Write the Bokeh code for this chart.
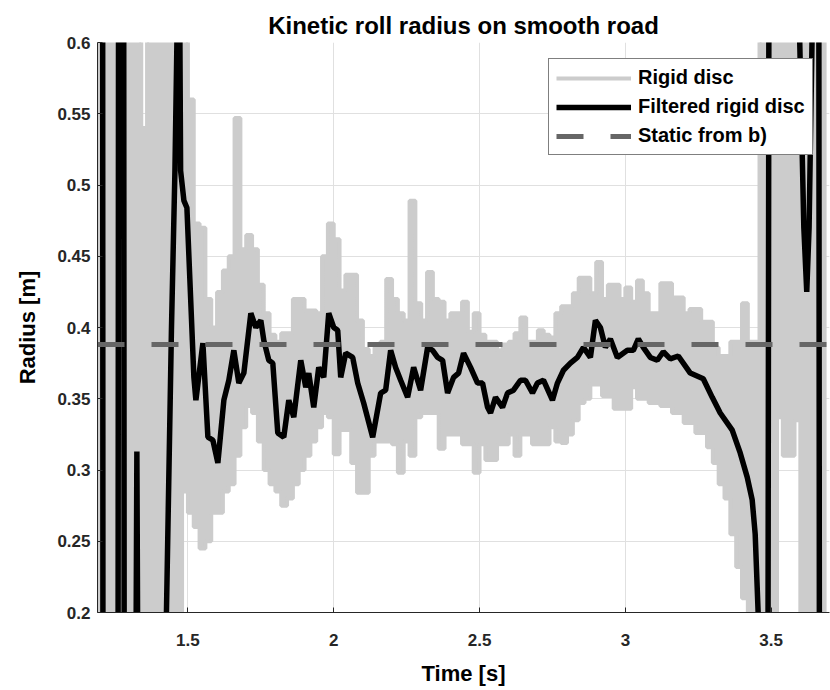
from bokeh.plotting import figure
from bokeh.models import Range1d, FixedTicker, Legend, LegendItem
from bokeh.embed import file_html
from bokeh.resources import INLINE

# ---------------- data ----------------
# Rigid disc: fast oscillating signal, given as its upper / lower extent per 0.02 s
rigid_t0 = 1.19
rigid_dt = 0.02
rigid_hi = [0.9, 0.9, 0.9, 0.9, 0.9, 0.9, 0.9, 0.9, 0.54, 0.9,
            0.9, 0.9, 0.9, 0.9, 0.9, 0.9, 0.56, 0.473, 0.47, 0.42,
            0.40, 0.425, 0.44, 0.45, 0.547, 0.455, 0.465, 0.455, 0.43, 0.41,
            0.395, 0.39, 0.396, 0.396, 0.42, 0.42, 0.412, 0.412, 0.41, 0.45,
            0.473, 0.462, 0.426, 0.437, 0.437, 0.405, 0.385, 0.38, 0.386, 0.39,
            0.434, 0.42, 0.41, 0.405, 0.489, 0.417, 0.405, 0.439, 0.42, 0.418,
            0.405, 0.41, 0.41, 0.418, 0.397, 0.41, 0.395, 0.39, 0.39, 0.384,
            0.388, 0.39, 0.396, 0.407, 0.39, 0.39, 0.398, 0.395, 0.393, 0.41,
            0.415, 0.415, 0.424, 0.435, 0.435, 0.424, 0.446, 0.42, 0.43, 0.43,
            0.42, 0.428, 0.418, 0.433, 0.424, 0.41, 0.41, 0.431, 0.431, 0.421,
            0.421, 0.41, 0.413, 0.413, 0.404, 0.404, 0.386, 0.38, 0.38, 0.39,
            0.39, 0.417, 0.39, 0.39, 0.9, 0.9, 0.9, 0.9, 0.9, 0.9,
            0.9, 0.9, 0.9, 0.9, 0.9, 0.9]
rigid_lo = [-0.1, -0.1, -0.1, -0.1, -0.1, -0.1, -0.1, -0.1, -0.1, -0.1,
            -0.1, -0.1, -0.1, -0.1, -0.1, 0.285, 0.27, 0.26, 0.245, 0.25,
            0.27, 0.27, 0.285, 0.29, 0.31, 0.33, 0.345, 0.34, 0.32, 0.30,
            0.29, 0.285, 0.275, 0.28, 0.29, 0.30, 0.31, 0.32, 0.33, 0.34,
            0.337, 0.311, 0.328, 0.328, 0.305, 0.284, 0.284, 0.31, 0.32, 0.32,
            0.32, 0.318, 0.298, 0.32, 0.31, 0.337, 0.34, 0.34, 0.34, 0.315,
            0.325, 0.325, 0.325, 0.318, 0.318, 0.298, 0.318, 0.307, 0.307, 0.318,
            0.318, 0.325, 0.31, 0.325, 0.325, 0.318, 0.318, 0.318, 0.33, 0.32,
            0.319, 0.325, 0.335, 0.347, 0.35, 0.36, 0.36, 0.352, 0.352, 0.343,
            0.343, 0.343, 0.358, 0.35, 0.35, 0.347, 0.347, 0.345, 0.345, 0.34,
            0.34, 0.333, 0.333, 0.326, 0.326, 0.316, 0.305, 0.29, 0.28, 0.255,
            0.232, 0.21, -0.1, -0.1, -0.1, -0.1, -0.1, 0.337, 0.31, 0.31,
            0.335, -0.1, -0.1, -0.1, -0.1, -0.1]

# Filtered rigid disc
filt_t = [1.190, 1.203, 1.215, 1.250, 1.270, 1.272, 1.292, 1.310, 1.325, 1.340,
          1.360, 1.405, 1.4264, 1.4435, 1.4555, 1.4623, 1.4675, 1.4726, 1.4750, 1.4863,
          1.4966, 1.5205, 1.5274, 1.5514, 1.5685, 1.5856, 1.6027, 1.6233, 1.6404, 1.6575,
          1.6747, 1.6918, 1.7158, 1.7329, 1.7500, 1.7603, 1.7774, 1.7911, 1.8082, 1.8288,
          1.8459, 1.8630, 1.8870, 1.9041, 1.9144, 1.9315, 1.9486, 1.9658, 1.9829, 2.0000,
          2.0137, 2.0240, 2.0411, 2.0651, 2.0822, 2.1027, 2.1336, 2.1610, 2.1781, 2.1952,
          2.2123, 2.2295, 2.2534, 2.2740, 2.2979, 2.3219, 2.3390, 2.3562, 2.3733, 2.3904,
          2.4110, 2.4281, 2.4452, 2.4692, 2.4932, 2.5103, 2.5274, 2.5377, 2.5548, 2.5788,
          2.5959, 2.6164, 2.6404, 2.6575, 2.6815, 2.6986, 2.7192, 2.7500, 2.7671, 2.7877,
          2.8116, 2.8356, 2.8562, 2.8801, 2.8973, 2.9144, 2.9315, 2.9486, 2.9726, 3.0068,
          3.0274, 3.0445, 3.0616, 3.0856, 3.1096, 3.1301, 3.1541, 3.1815, 3.2226, 3.2671,
          3.2979, 3.3253, 3.3664, 3.3938, 3.4178, 3.4349, 3.4452, 3.4555, 3.4650, 3.4780,
          3.4980, 3.5400, 3.5850, 3.5980, 3.6120, 3.6220, 3.6300, 3.6400, 3.6480, 3.6600,
          3.6720, 3.7000]
filt_r = [2.5, 3.0, -3.0, -3.0, 3.0, 3.0, -3.0, -0.4, 0.313, -0.4,
          -3.0, -3.0, 0.200, 0.398, 0.510, 0.600, 0.700, 0.600, 0.510, 0.489,
          0.484, 0.365, 0.349, 0.389, 0.323, 0.321, 0.305, 0.349, 0.363, 0.384,
          0.361, 0.368, 0.410, 0.400, 0.405, 0.391, 0.377, 0.375, 0.326, 0.323,
          0.349, 0.337, 0.377, 0.358, 0.368, 0.344, 0.372, 0.365, 0.410, 0.400,
          0.398, 0.365, 0.382, 0.379, 0.361, 0.347, 0.323, 0.354, 0.356, 0.384,
          0.372, 0.363, 0.351, 0.372, 0.356, 0.386, 0.384, 0.379, 0.377, 0.354,
          0.365, 0.368, 0.382, 0.372, 0.361, 0.361, 0.344, 0.340, 0.351, 0.344,
          0.354, 0.356, 0.363, 0.363, 0.354, 0.361, 0.363, 0.349, 0.361, 0.370,
          0.375, 0.379, 0.386, 0.379, 0.405, 0.400, 0.386, 0.392, 0.379, 0.384,
          0.384, 0.392, 0.386, 0.379, 0.377, 0.383, 0.378, 0.380, 0.368, 0.364,
          0.351, 0.340, 0.328, 0.312, 0.295, 0.279, 0.255, 0.199, -1.0, -1.5,
          1.5, 2.0, 1.0, 0.600, 0.470, 0.425, 0.470, 0.600, 1.5, 1.5,
          -1.5, -2.0]

# Static radius from b)
static_t = [1.19, 3.70]
static_r = [0.388, 0.388]

x_ticks = [1.5, 2.0, 2.5, 3.0, 3.5]
x_tick_labels = ["1.5", "2", "2.5", "3", "3.5"]
y_ticks = [0.2, 0.25, 0.3, 0.35, 0.4, 0.45, 0.5, 0.55, 0.6]
y_tick_labels = ["0.2", "0.25", "0.3", "0.35", "0.4", "0.45", "0.5", "0.55", "0.6"]

rigid_t = [rigid_t0 + k * rigid_dt for k in range(len(rigid_hi))]

FONT = "Liberation Sans"
GRAY = "#cccccc"

p = figure(width=830, height=690, output_backend="svg", toolbar_location=None,
           x_range=Range1d(1.19, 3.70), y_range=Range1d(0.2, 0.6),
           min_border_left=97, min_border_right=1, min_border_top=42, min_border_bottom=78,
           title="Kinetic roll radius on smooth road")
p.background_fill_color = "white"
p.border_fill_color = "white"
p.outline_line_color = None

p.title.align = "center"
p.title.text_font = FONT
p.title.text_font_size = "24px"
p.title.text_font_style = "bold"
p.title.text_color = "#000000"
p.title.standoff = 8

# raw signal: fast oscillation filling the band between its upper and lower extent
p.varea_step(x=rigid_t, y1=rigid_lo, y2=rigid_hi, step_mode="center", fill_color=GRAY)
r_rigid = p.step(rigid_t, rigid_hi, mode="center", line_color=GRAY, line_width=4)
p.step(rigid_t, rigid_lo, mode="center", line_color=GRAY, line_width=4)
r_filt = p.line(filt_t, filt_r, line_color="#000000", line_width=5.5)
r_static = p.line(static_t, static_r, line_color="#666666", line_width=5, line_dash="27 27")

for ax in (p.xaxis[0], p.yaxis[0]):
    ax.major_label_text_font = FONT
    ax.major_label_text_font_size = "17px"
    ax.major_label_text_font_style = "bold"
    ax.major_label_text_color = "#262626"
    ax.axis_label_text_font = FONT
    ax.axis_label_text_font_size = "22px"
    ax.axis_label_text_font_style = "bold"
    ax.axis_label_text_color = "#000000"
    ax.axis_line_color = "#262626"
    ax.major_tick_line_color = "#262626"
    ax.major_tick_in = 5
    ax.major_tick_out = 0
    ax.minor_tick_line_color = None

p.xaxis.ticker = FixedTicker(ticks=x_ticks)
p.xaxis.major_label_overrides = dict(zip(x_ticks, x_tick_labels))
p.yaxis.ticker = FixedTicker(ticks=y_ticks)
p.yaxis.major_label_overrides = dict(zip(y_ticks, y_tick_labels))
p.xaxis.axis_label = "Time [s]"
p.yaxis.axis_label = "Radius [m]"
p.xaxis.major_label_standoff = 21
p.xaxis.axis_label_standoff = 12
p.yaxis.major_label_standoff = 7
p.yaxis.axis_label_standoff = 14

p.xgrid.grid_line_color = "#e0e0e0"
p.ygrid.grid_line_color = "#e0e0e0"

legend = Legend(items=[LegendItem(label="Rigid disc", renderers=[r_rigid]),
                       LegendItem(label="Filtered rigid disc", renderers=[r_filt]),
                       LegendItem(label="Static from b)", renderers=[r_static])],
                location=(451, 457))
legend.label_text_font = FONT
legend.label_text_font_size = "20px"
legend.label_text_font_style = "bold"
legend.label_text_color = "#000000"
legend.glyph_width = 75
legend.glyph_height = 22
legend.label_height = 22
legend.label_standoff = 7
legend.spacing = 6
legend.padding = 7
legend.margin = 0
legend.border_line_color = "#000000"
legend.border_line_width = 1
legend.background_fill_color = "white"
legend.background_fill_alpha = 1.0
p.add_layout(legend, "center")

open("out.html", "w").write(file_html(p, INLINE))
